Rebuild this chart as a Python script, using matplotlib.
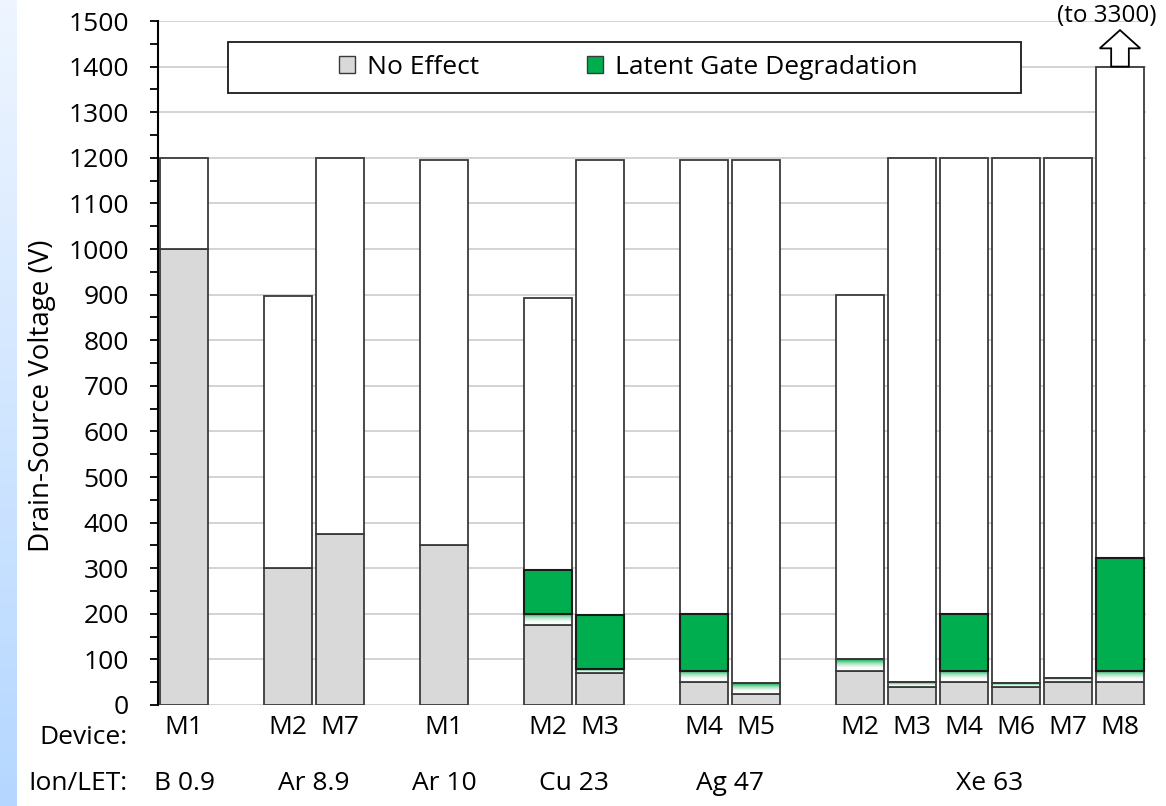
import numpy as np
import matplotlib.pyplot as plt
from matplotlib.patches import Rectangle, Patch, FancyArrow
from matplotlib.colors import LinearSegmentedColormap
from matplotlib.ticker import MultipleLocator
import matplotlib.transforms as mtrans

plt.rcParams['font.family'] = ['Open Sans', 'DejaVu Sans']

# data
ions = ["B 0.9", "Ar 8.9", "Ar 10", "Cu 23", "Ag 47", "Xe 63"]
group_sizes = [1, 2, 1, 2, 2, 6]
devices = ["M1", "M2", "M7", "M1", "M2", "M3", "M4", "M5",
           "M2", "M3", "M4", "M6", "M7", "M8"]
no_effect = [1000, 300, 375, 350, 175, 70, 50, 25, 75, 40, 50, 40, 50, 50]
transition_top = [1000, 300, 375, 350, 200, 78, 75, 48, 100, 50, 75, 48, 60, 75]
latent_top = [1000, 300, 375, 350, 297, 197, 200, 48, 100, 50, 200, 48, 60, 323]
tested_max = [1200, 898, 1200, 1195, 893, 1195, 1195, 1195, 900, 1200, 1200, 1200, 1200, 1400]
extended_note = "(to 3300)"

# bar slots: one empty slot between ion groups
positions = []
group_centers = []
slot = 0
for n in group_sizes:
    grp = list(range(slot, slot + n))
    positions += grp
    group_centers.append(np.mean(grp))
    slot += n + 1
positions = np.array(positions, dtype=float)

gray = '#D9D9D9'
green = '#00AE4F'
edge = '#3A3A3A'
width = 0.94
fs = 19

fig = plt.figure(figsize=(11.66, 8.06), dpi=100)

# light blue strip at the left edge
strip = fig.add_axes([0, 0, 17 / 1166, 1])
strip.imshow(np.linspace(0, 1, 100).reshape(-1, 1), aspect='auto',
             cmap=LinearSegmentedColormap.from_list('s', ['#EEF5FF', '#B5D7FF']),
             extent=[0, 1, 0, 1])
strip.axis('off')

ax = fig.add_axes([158 / 1166, 101 / 806, 988 / 1166, 684 / 806])

fade = LinearSegmentedColormap.from_list('fade', ['#FFFFFF', '#F4FBF7', '#9FDDBA', green])

for i, x in enumerate(positions):
    left = x - width / 2
    # no effect (gray)
    ax.bar(x, no_effect[i], width, color=gray, edgecolor=edge, linewidth=1.3, zorder=2)
    # transition band with a fade
    if transition_top[i] > no_effect[i]:
        ax.imshow(np.linspace(0, 1, 50).reshape(-1, 1), cmap=fade, aspect='auto',
                  origin='lower', extent=[left, left + width, no_effect[i], transition_top[i]],
                  zorder=2)
        ax.add_patch(Rectangle((left, no_effect[i]), width, transition_top[i] - no_effect[i],
                               fill=False, edgecolor=edge, linewidth=1.3, zorder=3))
    # latent gate degradation (green)
    if latent_top[i] > transition_top[i]:
        ax.bar(x, latent_top[i] - transition_top[i], width, bottom=transition_top[i],
               color=green, edgecolor='#1A1A1A', linewidth=1.5, zorder=3)
    # remaining tested range (white)
    ax.bar(x, tested_max[i] - latent_top[i], width, bottom=latent_top[i],
           color='white', edgecolor=edge, linewidth=1.3, zorder=2)

# arrow on the last bar showing the range continues
xl = positions[-1]
ax.add_patch(FancyArrow(xl, tested_max[-1], 0, 80, width=0.34, head_width=0.78,
                        head_length=40, length_includes_head=True,
                        facecolor='white', edgecolor='black', linewidth=1.3,
                        zorder=4, clip_on=False))
ax.text(xl - 0.25, 1510, extended_note, ha='center', va='center', fontsize=17.5,
        clip_on=False)

ax.set_xlim(-0.5, 18.5)
ax.set_ylim(0, 1500)
ax.yaxis.set_major_locator(MultipleLocator(100))
ax.yaxis.set_minor_locator(MultipleLocator(50))
ax.grid(axis='y', color='#D0D0D0', linewidth=1.3, zorder=0)
ax.set_axisbelow(True)
for s in ['top', 'right', 'bottom']:
    ax.spines[s].set_visible(False)
ax.spines['left'].set_linewidth(1.5)
ax.tick_params(axis='y', which='both', direction='out', length=6, width=1.3,
               labelsize=fs, pad=15)
ax.text(-0.117, 0.452, 'Drain-Source Voltage (V)', transform=ax.transAxes,
        rotation=90, ha='center', va='center', fontsize=20)

ax.set_xticks(positions)
ax.set_xticklabels(devices, fontsize=fs)
ax.tick_params(axis='x', length=0, pad=7)

trans = ax.get_xaxis_transform()
off = mtrans.offset_copy(trans, fig=fig, x=0, y=-78, units='dots')
for c, name in zip(group_centers, ions):
    ax.text(c, 0, name, transform=off, ha='center', va='center', fontsize=fs)

lab = ax.transAxes
ax.text(-0.031, -33 / 684, 'Device:', transform=lab, ha='right', va='center', fontsize=fs)
ax.text(-0.031, -78 / 684, 'Ion/LET:', transform=lab, ha='right', va='center', fontsize=fs)

# legend box
ax.add_patch(Rectangle((0.85, 1342), 16.1 - 0.85, 1454 - 1342, facecolor='white',
                       edgecolor='#1A1A1A', linewidth=1.3, zorder=5))
handles = [Patch(facecolor=gray, edgecolor=edge, linewidth=1.0, label='No Effect'),
           Patch(facecolor=green, edgecolor=edge, linewidth=1.0, label='Latent Gate Degradation')]
leg = ax.legend(handles=handles, ncol=2, frameon=False, fontsize=fs,
                loc='center', bbox_to_anchor=((0.85 + 16.1) / 2 + 0.07, 1398),
                bbox_transform=ax.transData, handlelength=0.6, handleheight=0.6,
                handletextpad=0.45, columnspacing=4.1)
leg.set_zorder(6)

fig.savefig('out.png', dpi=100)
